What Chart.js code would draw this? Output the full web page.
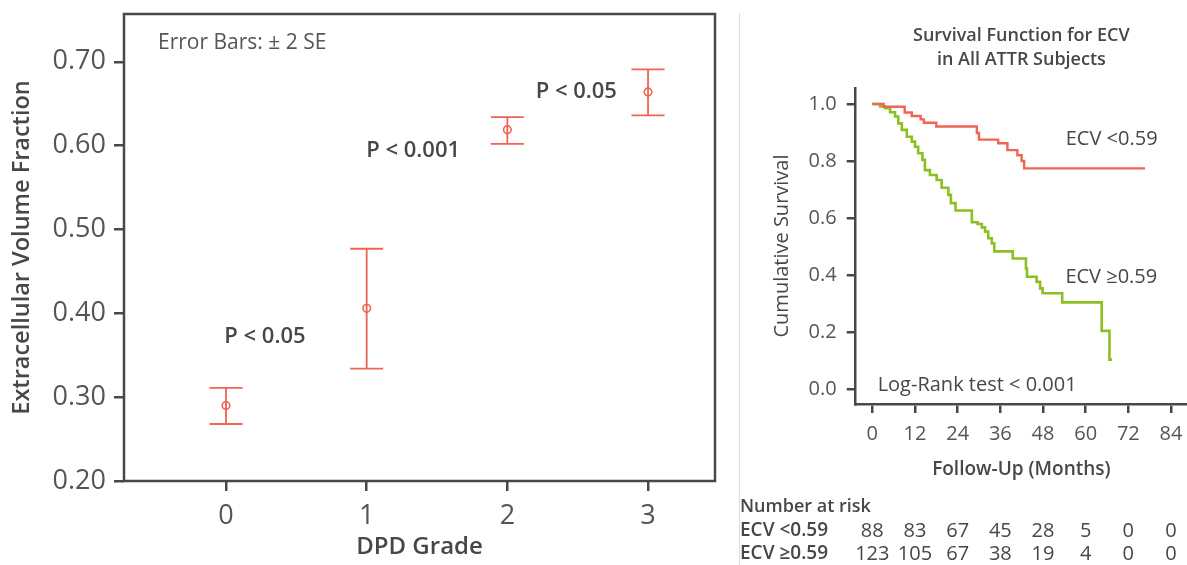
<!DOCTYPE html>
<html>
<head>
<meta charset="utf-8">
<title>ECV by DPD grade and survival</title>
<script src="https://cdn.jsdelivr.net/npm/chart.js@4.4.1/dist/chart.umd.min.js"></script>
<style>
    html, body { margin: 0; padding: 0; background: #fff; }
    #figure { position: relative; width: 1187px; height: 565px; overflow: hidden; }
    #ecvChart { position: absolute; left: 0; top: 0; }
    #divider { position: absolute; left: 739px; top: 13px; width: 1px; height: 552px; background: #dddddd; }
    #survivalChart { position: absolute; left: 740px; top: 0; }
</style>
</head>
<body>
<div id="figure">
    <canvas id="ecvChart" width="735" height="565"></canvas>
    <div id="divider"></div>
    <canvas id="survivalChart" width="447" height="565"></canvas>
</div>
<script>
// ECV by DPD grade (mean with ±2 SE)
const dpdGrades = [0, 1, 2, 3];
const ecvMeans = [0.290, 0.406, 0.619, 0.664];
const ecvUpper = [0.311, 0.477, 0.634, 0.691];
const ecvLower = [0.268, 0.334, 0.602, 0.636];
const ecvTicks = [0.20, 0.30, 0.40, 0.50, 0.60, 0.70];

// Kaplan-Meier steps, ECV < 0.59
const lowMonths = [0, 3.2, 9.1, 11.1, 13.6, 14.5, 18.0, 29.4, 30.0, 35.4, 38.0, 40.8, 42.0, 42.7, 76.7];
const lowSurvival = [1.0, 0.990, 0.970, 0.958, 0.946, 0.934, 0.921, 0.898, 0.875, 0.862, 0.838, 0.820, 0.800, 0.774, 0.774];

// Kaplan-Meier steps, ECV >= 0.59
const highMonths = [0, 2.2, 3.6, 5.0, 6.4, 7.3, 8.3, 9.7, 11.1, 12.0, 12.9, 14.1, 14.8, 16.2, 18.1, 19.5,
    21.4, 22.1, 23.4, 28.0, 29.6, 30.8, 31.7, 32.6, 33.6, 34.3, 39.5, 43.2, 43.5, 46.2, 47.2, 47.9,
    53.4, 64.5, 66.7, 67.4];
const highSurvival = [1.0, 0.991, 0.985, 0.971, 0.956, 0.932, 0.909, 0.885, 0.868, 0.850, 0.827, 0.804, 0.768, 0.751, 0.733, 0.706,
    0.681, 0.652, 0.626, 0.585, 0.579, 0.567, 0.552, 0.529, 0.511, 0.483, 0.458, 0.423, 0.394, 0.376, 0.353, 0.336,
    0.304, 0.204, 0.103, 0.103];

const monthTicks = [0, 12, 24, 36, 48, 60, 72, 84];
const survivalTicks = [0, 0.2, 0.4, 0.6, 0.8, 1.0];
const riskLow = [88, 83, 67, 45, 28, 5, 0, 0];
const riskHigh = [123, 105, 67, 38, 19, 4, 0, 0];

const RED = "#ef6455";
const GREEN = "#8dbf22";
const AXIS_COLOR = "#484848";
const TICK_COLOR = "#555555";
const LABEL_COLOR = "#474747";
const FONT = "'Open Sans', 'Noto Sans', sans-serif";

Chart.defaults.font.family = FONT;
Chart.defaults.color = TICK_COLOR;

// text placed in data coordinates
const notesPlugin = {
    id: "notes",
    afterDraw(chart, args, opts) {
        const { ctx, scales: { x, y } } = chart;
        ctx.save();
        ctx.fillStyle = LABEL_COLOR;
        ctx.textBaseline = "middle";
        (opts.items || []).forEach(note => {
            ctx.font = note.font;
            ctx.textAlign = note.align || "left";
            ctx.fillText(note.text, x.getPixelForValue(note.x), y.getPixelForValue(note.y));
        });
        ctx.restore();
    }
};

// keep edge tick labels from shrinking the plot area
function fixWidth(size) {
    return scale => {
        scale.width = size;
        scale.paddingTop = 0;
        scale.paddingBottom = 0;
    };
}

function fixHeight(size) {
    return scale => {
        scale.height = size;
        scale.paddingLeft = 0;
        scale.paddingRight = 0;
    };
}

drawEcvChart();
drawSurvivalChart();

function drawEcvChart() {
    const framePlugin = {
        id: "frame",
        afterDraw(chart) {
            const { ctx, chartArea: a } = chart;
            ctx.save();
            ctx.strokeStyle = AXIS_COLOR;
            ctx.lineWidth = 2.5;
            ctx.strokeRect(a.left, a.top, a.right - a.left, a.bottom - a.top);
            ctx.fillStyle = TICK_COLOR;
            ctx.font = "21px " + FONT;
            ctx.textBaseline = "middle";
            ctx.fillText("Error Bars: \u00b1 2 SE", a.left + 34, a.top + 29);
            ctx.restore();
        }
    };

    const errorBarPlugin = {
        id: "errorBars",
        beforeDatasetsDraw(chart) {
            const { ctx, scales: { x, y } } = chart;
            ctx.save();
            ctx.strokeStyle = RED;
            ctx.lineWidth = 1.8;
            dpdGrades.forEach((grade, i) => {
                const px = x.getPixelForValue(grade);
                const top = y.getPixelForValue(ecvUpper[i]);
                const bottom = y.getPixelForValue(ecvLower[i]);
                ctx.beginPath();
                ctx.moveTo(px, top);
                ctx.lineTo(px, bottom);
                ctx.moveTo(px - 16.5, top);
                ctx.lineTo(px + 16.5, top);
                ctx.moveTo(px - 16.5, bottom);
                ctx.lineTo(px + 16.5, bottom);
                ctx.stroke();
            });
            ctx.restore();
        }
    };

    new Chart(document.getElementById("ecvChart"), {
        type: "scatter",
        data: {
            datasets: [{
                data: dpdGrades.map((g, i) => ({ x: g, y: ecvMeans[i] })),
                pointStyle: "circle",
                pointRadius: 3.8,
                borderWidth: 1.6,
                borderColor: RED,
                backgroundColor: "rgba(255,255,255,0)"
            }]
        },
        options: {
            responsive: false,
            animation: false,
            layout: { padding: { top: 14, right: 20, left: 0, bottom: 0 } },
            plugins: {
                legend: { display: false },
                tooltip: { enabled: false },
                notes: {
                    items: [
                        { text: "P < 0.05", x: 0.277, y: 0.372, font: "600 22px " + FONT, align: "center" },
                        { text: "P < 0.001", x: 1.33, y: 0.594, font: "600 22px " + FONT, align: "center" },
                        { text: "P < 0.05", x: 2.49, y: 0.664, font: "600 22px " + FONT, align: "center" }
                    ]
                }
            },
            scales: {
                x: {
                    type: "linear",
                    min: -0.725,
                    max: 3.476,
                    afterBuildTicks: scale => { scale.ticks = dpdGrades.map(v => ({ value: v })); },
                    afterFit: fixHeight(84),
                    border: { display: false },
                    grid: { drawOnChartArea: false, tickLength: 10, color: AXIS_COLOR, lineWidth: 2.5 },
                    ticks: { font: { size: 27 }, padding: 9, callback: v => String(v) },
                    title: {
                        display: true,
                        text: "DPD Grade",
                        color: LABEL_COLOR,
                        font: { size: 24, weight: "600" },
                        padding: { top: 4, bottom: 3 }
                    }
                },
                y: {
                    min: 0.2,
                    max: 0.757,
                    afterBuildTicks: scale => { scale.ticks = ecvTicks.map(v => ({ value: v })); },
                    afterFit: fixWidth(124),
                    border: { display: false },
                    grid: { drawOnChartArea: false, tickLength: 10, color: AXIS_COLOR, lineWidth: 2.5 },
                    ticks: { font: { size: 27 }, padding: 8, callback: v => v.toFixed(2) },
                    title: {
                        display: true,
                        text: "Extracellular Volume Fraction",
                        color: LABEL_COLOR,
                        font: { size: 23.5, weight: "600" },
                        padding: { top: 8, bottom: 4 }
                    }
                }
            }
        },
        plugins: [errorBarPlugin, framePlugin, notesPlugin]
    });
}

function drawSurvivalChart() {
    const headerPlugin = {
        id: "header",
        afterDraw(chart) {
            const { ctx, chartArea: a, scales: { x } } = chart;
            const center = (a.left + a.right) / 2;
            ctx.save();
            ctx.fillStyle = LABEL_COLOR;
            ctx.textBaseline = "middle";
            ctx.textAlign = "center";
            ctx.font = "600 18px " + FONT;
            ctx.fillText("Survival Function for ECV", center, 36);
            ctx.fillText("in All ATTR Subjects", center, 60);

            // number at risk table, one column per month tick
            ctx.textAlign = "left";
            ctx.font = "600 18px " + FONT;
            ctx.fillText("Number at risk", 0, 507);
            ctx.font = "600 19px " + FONT;
            ctx.fillText("ECV <0.59", 0, 531);
            ctx.fillText("ECV \u22650.59", 0, 554);
            ctx.textAlign = "center";
            ctx.font = "20px " + FONT;
            monthTicks.forEach((t, i) => {
                const px = x.getPixelForValue(t);
                ctx.fillText(String(riskLow[i]), px, 531);
                ctx.fillText(String(riskHigh[i]), px, 554);
            });
            ctx.restore();
        }
    };

    new Chart(document.getElementById("survivalChart"), {
        type: "scatter",
        data: {
            datasets: [
                {
                    label: "ECV <0.59",
                    data: lowMonths.map((m, i) => ({ x: m, y: lowSurvival[i] })),
                    showLine: true,
                    stepped: true,
                    borderColor: RED,
                    borderWidth: 2.4,
                    pointRadius: 0
                },
                {
                    label: "ECV \u22650.59",
                    data: highMonths.map((m, i) => ({ x: m, y: highSurvival[i] })),
                    showLine: true,
                    stepped: true,
                    borderColor: GREEN,
                    borderWidth: 2.6,
                    pointRadius: 0
                }
            ]
        },
        options: {
            responsive: false,
            animation: false,
            layout: { padding: { top: 88, right: 0, left: 0, bottom: 0 } },
            plugins: {
                legend: { display: false },
                tooltip: { enabled: false },
                notes: {
                    items: [
                        { text: "ECV <0.59", x: 54.4, y: 0.877, font: "20px " + FONT },
                        { text: "ECV \u22650.59", x: 54.3, y: 0.393, font: "20px " + FONT },
                        { text: "Log-Rank test < 0.001", x: 1.5, y: 0.014, font: "500 20px " + FONT }
                    ]
                }
            },
            scales: {
                x: {
                    type: "linear",
                    min: -4.67,
                    max: 88.5,
                    afterBuildTicks: scale => { scale.ticks = monthTicks.map(v => ({ value: v })); },
                    afterFit: fixHeight(161),
                    border: { display: true, color: AXIS_COLOR, width: 2.5 },
                    grid: { drawOnChartArea: false, tickLength: 9, color: AXIS_COLOR, lineWidth: 2.5 },
                    ticks: { font: { size: 20 }, padding: 9, callback: v => String(v) },
                    title: {
                        display: true,
                        text: "Follow-Up (Months)",
                        color: LABEL_COLOR,
                        font: { size: 19, weight: "600" },
                        padding: { top: 4, bottom: 84 }
                    }
                },
                y: {
                    min: -0.0526,
                    max: 1.056,
                    afterBuildTicks: scale => { scale.ticks = survivalTicks.map(v => ({ value: v })); },
                    afterFit: fixWidth(115.7),
                    border: { display: true, color: AXIS_COLOR, width: 2.5 },
                    grid: { drawOnChartArea: false, tickLength: 9, color: AXIS_COLOR, lineWidth: 2.5 },
                    ticks: { font: { size: 20 }, padding: 10, callback: v => v.toFixed(1) },
                    title: {
                        display: true,
                        text: "Cumulative Survival",
                        color: LABEL_COLOR,
                        font: { size: 20, weight: "500" },
                        padding: { top: 30, bottom: 4 }
                    }
                }
            }
        },
        plugins: [headerPlugin, notesPlugin]
    });
}
</script>
</body>
</html>
